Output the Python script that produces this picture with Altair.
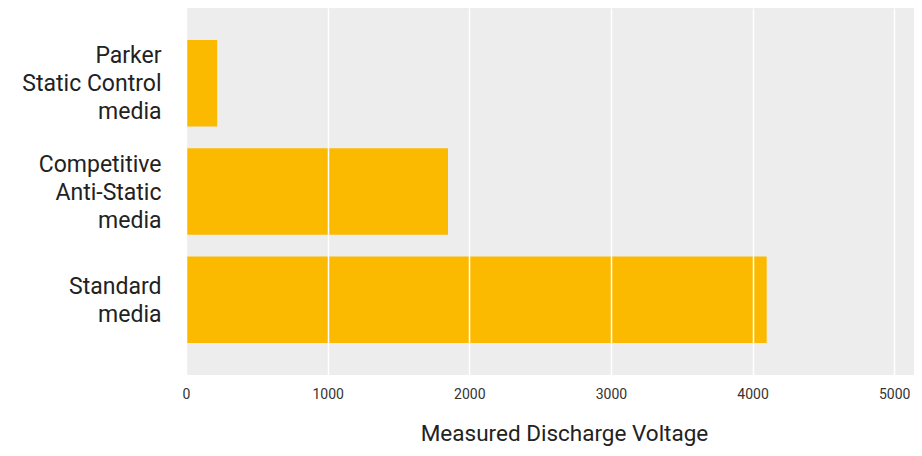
import altair as alt
import pandas as pd

categories = ["Parker\nStatic Control\nmedia", "Competitive\nAnti-Static\nmedia", "Standard\nmedia"]
voltages = [220, 1850, 4100]
tick_values = [0, 1000, 2000, 3000, 4000, 5000]

df = pd.DataFrame({"media": categories, "voltage": voltages})

FONT = "Roboto"

chart = alt.Chart(df).mark_bar(color="#FBBA00").encode(
    x=alt.X(
        "voltage:Q",
        scale=alt.Scale(domain=[0, 5140], nice=False, zero=True),
        axis=alt.Axis(
            title="Measured Discharge Voltage",
            values=tick_values,
            format="d",
            grid=True,
            gridColor="white",
            gridWidth=1.5,
            domain=False,
            ticks=False,
            labelFlush=False,
            labelFont=FONT,
            labelFontSize=14,
            labelColor="#333333",
            labelPadding=12,
            titleFont=FONT,
            titleFontSize=22.5,
            titleFontWeight="normal",
            titleColor="#222222",
            titlePadding=21,
            titleX=378,
            zindex=1,
        ),
    ),
    y=alt.Y(
        "media:N",
        sort=categories,
        scale=alt.Scale(paddingInner=0.2, paddingOuter=0.295),
        axis=alt.Axis(
            title=None,
            domain=False,
            ticks=False,
            grid=False,
            labelExpr="split(datum.label, '\\n')",
            labelOffset={"condition": {"test": "indexof(datum.value, 'Standard') >= 0", "value": -13}, "value": -27},
            labelFont=FONT,
            labelFontSize=23,
            labelLineHeight=28,
            labelColor="#222222",
            labelPadding=25,
            labelLimit=300,
        ),
    ),
).properties(
    width=728,
    height=367,
    autosize=alt.AutoSizeParams(type="none"),
    padding={"left": 178, "top": 0, "right": 0, "bottom": 72},
    background="white",
).configure_view(fill="#EDEDED", stroke=None)

chart.save("out.html", embed_options={"renderer": "svg", "actions": False})
